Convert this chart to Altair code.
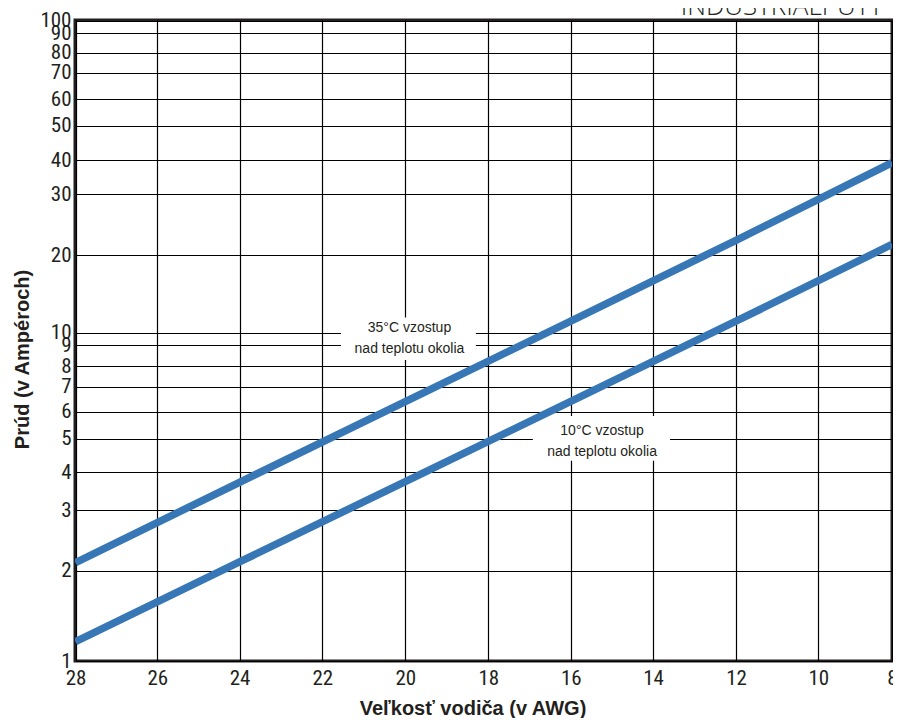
import altair as alt
import pandas as pd

# ---- data ----
awg = [28, 24, 20, 16, 12, 8]
rise_35 = [2.11, 3.70, 6.38, 11.1, 22.1, 39.1]
rise_10 = [1.16, 2.12, 3.72, 6.39, 11.08, 21.5]
series_names = ["35°C vzostup nad teplotu okolia", "10°C vzostup nad teplotu okolia"]

x_ticks = [28, 26, 24, 22, 20, 18, 16, 14, 12, 10, 8]
y_ticks = [1, 2, 3, 4, 5, 6, 7, 8, 9, 10, 20, 30, 40, 50, 60, 70, 80, 90, 100]

# annotation labels (data coordinates)
ann_text = ["35°C vzostup\nnad teplotu okolia", "10°C vzostup\nnad teplotu okolia"]
ann_x = [19.9, 15.24]
ann_y = [10.09, 5.12]
box_x1 = [21.55, 16.92]
box_x2 = [18.30, 13.59]
box_y1 = [8.27, 4.31]
box_y2 = [11.46, 5.82]

# hand-drawn grid of the original (scale break points, px)
x_range = [0.5, 82.3, 164.5, 247.3, 330.3, 413.3, 495.8, 578, 661, 743.3, 817]
y_range = [641, 550.7, 490, 452, 418.5, 391.5, 366.7, 346, 325, 312.7,
           235.3, 174.3, 140, 105.7, 79, 52.7, 32.7, 13.3, 0.5]

INK = "#231f20"
BLUE = "#3777b5"
NARROW = "Liberation Sans Narrow, Arial Narrow, Roboto Condensed, sans-serif"
SANS = "Liberation Sans, Arial, Helvetica, sans-serif"

lines_df = pd.DataFrame({
    "awg": awg * 2,
    "amps": rise_35 + rise_10,
    "series": [series_names[0]] * len(awg) + [series_names[1]] * len(awg),
})
ann_df = pd.DataFrame({"text": ann_text, "awg": ann_x, "amps": ann_y,
                       "x1": box_x1, "x2": box_x2, "y1": box_y1, "y2": box_y2})

x_scale = alt.Scale(domain=x_ticks, range=x_range, nice=False, zero=False)
y_scale = alt.Scale(type="log", domain=y_ticks, range=y_range, nice=False)

x_axis = alt.Axis(
    values=x_ticks, grid=True, gridColor="#000000", gridWidth=1.2, gridOpacity=1,
    ticks=False, tickSize=0, domain=False,
    labelFont=NARROW, labelFontSize=21, labelColor=INK, labelPadding=6,
    labelFlush=False, labelOverlap=False, labelBound=False,
    title="Veľkosť vodiča (v AWG)", titleFont=SANS, titleFontSize=20,
    titleFontWeight="bold", titleColor=INK, titleX=397.5, titleY=53,
    titleAlign="center", titleBaseline="alphabetic", titleAngle=0,
)
y_axis = alt.Axis(
    values=y_ticks, grid=True, gridColor="#000000", gridWidth=1.2, gridOpacity=1,
    ticks=False, tickSize=0, domain=False,
    labelFont=NARROW, labelFontSize=21, labelColor=INK, labelPadding=4,
    labelFlush=False, labelOverlap=False, labelBound=False,
    labelExpr="format(datum.value, 'd')",
    title="Prúd (v Ampéroch)", titleFont=SANS, titleFontSize=20,
    titleFontWeight="bold", titleColor=INK, titleX=-47, titleY=339,
    titleAlign="center", titleBaseline="alphabetic", titleAngle=270,
)

X = alt.X("awg:Q", scale=x_scale, axis=x_axis)
Y = alt.Y("amps:Q", scale=y_scale, axis=y_axis)

lines = alt.Chart(lines_df).mark_line(
    strokeWidth=7.5, strokeCap="butt", clip=True, color=BLUE
).encode(x=X, y=Y, detail="series:N")

boxes = alt.Chart(ann_df).mark_rect(color="white").encode(
    x=alt.X("x1:Q", scale=x_scale, axis=x_axis),
    x2="x2:Q",
    y=alt.Y("y1:Q", scale=y_scale, axis=y_axis),
    y2="y2:Q",
)

labels = alt.Chart(ann_df).mark_text(
    font=SANS, fontSize=14, color=INK, align="center", baseline="alphabetic",
    lineBreak="\n", lineHeight=21,
).encode(x=X, y=Y, text="text:N")

watermark = alt.Chart(pd.DataFrame({"t": ["INDUSTRIALPUTT"]})).mark_text(
    font="Open Sans, DejaVu Sans, sans-serif", fontSize=26, fontWeight=300,
    color=INK, align="right", baseline="alphabetic",
).encode(x=alt.value(808), y=alt.value(-5), text="t:N")

chart = alt.layer(boxes, lines, labels, watermark).properties(
    width=817, height=641,
    autosize=alt.AutoSizeParams(type="none"),
    padding={"left": 67, "top": 12, "right": 1, "bottom": 57},
    background="white",
).configure_view(stroke=INK, strokeWidth=3)

chart.save("out.html", embed_options={"renderer": "svg", "actions": False})
